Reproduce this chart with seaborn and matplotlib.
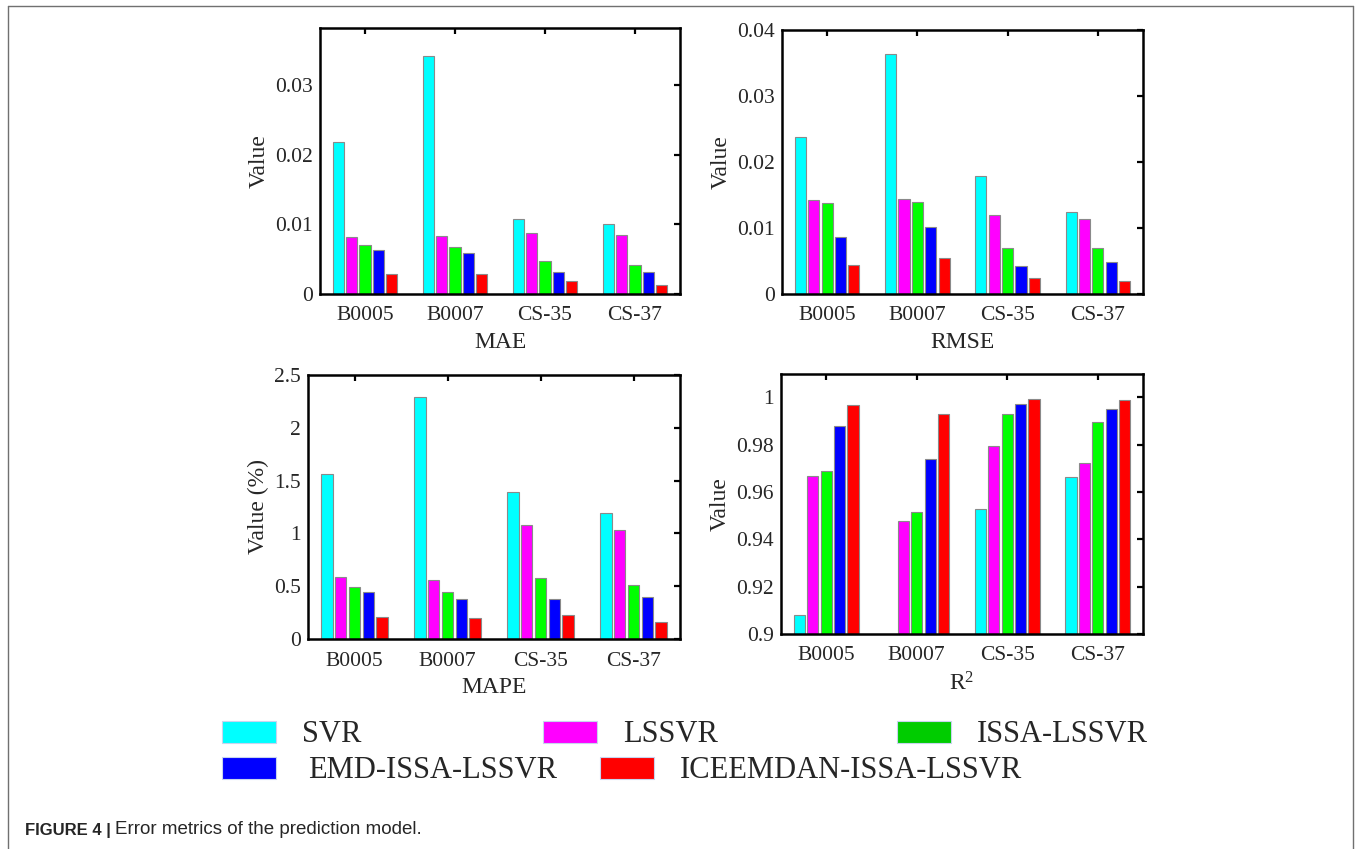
import numpy as np
import pandas as pd
import matplotlib
matplotlib.use("Agg")
import matplotlib.pyplot as plt
from matplotlib.patches import Patch
from matplotlib.lines import Line2D
from matplotlib.ticker import FuncFormatter
import seaborn as sns

# ---------------- data ----------------
datasets = ["B0005", "B0007", "CS-35", "CS-37"]
models = ["SVR", "LSSVR", "ISSA-LSSVR", "EMD-ISSA-LSSVR", "ICEEMDAN-ISSA-LSSVR"]

mae_svr = [0.0219, 0.0342, 0.0108, 0.0101]
mae_lssvr = [0.0082, 0.0084, 0.0088, 0.0085]
mae_issa = [0.0070, 0.0067, 0.0048, 0.0042]
mae_emd = [0.0063, 0.0059, 0.0031, 0.0032]
mae_ice = [0.0029, 0.0029, 0.0018, 0.0013]

rmse_svr = [0.0238, 0.0363, 0.0179, 0.0125]
rmse_lssvr = [0.0142, 0.0144, 0.0119, 0.0113]
rmse_issa = [0.0138, 0.0140, 0.0070, 0.0070]
rmse_emd = [0.0086, 0.0102, 0.0042, 0.0048]
rmse_ice = [0.0044, 0.0054, 0.0025, 0.0020]

mape_svr = [1.565, 2.287, 1.388, 1.192]
mape_lssvr = [0.587, 0.555, 1.082, 1.028]
mape_issa = [0.492, 0.442, 0.577, 0.511]
mape_emd = [0.442, 0.382, 0.379, 0.394]
mape_ice = [0.205, 0.196, 0.224, 0.161]

r2_svr = [0.9079, 0.8900, 0.9530, 0.9665]   # B0007 SVR lies below the 0.9 axis floor
r2_lssvr = [0.9666, 0.9477, 0.9794, 0.9721]
r2_issa = [0.9689, 0.9514, 0.9930, 0.9896]
r2_emd = [0.9879, 0.9738, 0.9973, 0.9951]
r2_ice = [0.9968, 0.9930, 0.9992, 0.9990]

bar_colors = ["#00FFFF", "#FF00FF", "#00FF00", "#0000FF", "#FF0000"]
legend_colors = ["#00FFFF", "#FF00FF", "#00CC00", "#0000FF", "#FF0000"]


def long_df(series):
    rows = []
    for m, vals in zip(models, series):
        for d, v in zip(datasets, vals):
            rows.append({"dataset": d, "model": m, "value": v})
    return pd.DataFrame(rows)


panels = [
    ("MAE", "Value", [mae_svr, mae_lssvr, mae_issa, mae_emd, mae_ice],
     (0, 0.0382), [0, 0.01, 0.02, 0.03]),
    ("RMSE", "Value", [rmse_svr, rmse_lssvr, rmse_issa, rmse_emd, rmse_ice],
     (0, 0.04), [0, 0.01, 0.02, 0.03, 0.04]),
    ("MAPE", "Value (%)", [mape_svr, mape_lssvr, mape_issa, mape_emd, mape_ice],
     (0, 2.5), [0, 0.5, 1, 1.5, 2, 2.5]),
    ("R$^{2}$", "Value", [r2_svr, r2_lssvr, r2_issa, r2_emd, r2_ice],
     (0.9, 1.0099), [0.9, 0.92, 0.94, 0.96, 0.98, 1.0]),
]

# ---------------- style ----------------
sns.set_style("white")
plt.rcParams["font.family"] = ["Liberation Serif", "DejaVu Serif"]
plt.rcParams["mathtext.fontset"] = "custom"
plt.rcParams["mathtext.rm"] = "Liberation Serif"
plt.rcParams["mathtext.it"] = "Liberation Serif"

fig = plt.figure(figsize=(13.56, 8.49), dpi=100)
W, H = 1356, 849


def px_axes(left, top, right, bottom):
    return fig.add_axes([left / W, 1 - bottom / H, (right - left) / W, (bottom - top) / H])


boxes = [
    (320, 28, 680, 294),
    (782, 30, 1143, 294),
    (308, 375, 680, 639),
    (781, 374, 1143, 634),
]

for (xlabel, ylabel, series, ylim, yticks), box in zip(panels, boxes):
    ax = px_axes(*box)
    df = long_df(series)
    sns.barplot(data=df, x="dataset", y="value", hue="model", hue_order=models,
                order=datasets, palette=bar_colors, width=0.74, gap=0.17,
                edgecolor="#8a8a8a", linewidth=0.8, saturation=1, ax=ax,
                legend=False, errorbar=None)
    ax.set_xlim(-0.5, 3.5)
    ax.set_ylim(*ylim)
    ax.set_yticks(yticks)
    ax.yaxis.set_major_formatter(FuncFormatter(lambda v, p: "%g" % round(v, 4)))
    ax.set_xlabel(xlabel, fontsize=17, labelpad=5)
    ax.set_ylabel(ylabel, fontsize=17, labelpad=4)
    ax.tick_params(axis="both", direction="in", top=True, right=True,
                   length=4.5, width=1.6, labelsize=15.5, color="black")
    ax.tick_params(axis="x", pad=9)
    ax.tick_params(axis="y", pad=5)
    for s in ax.spines.values():
        s.set_linewidth(1.8)
        s.set_color("black")
        s.set_visible(True)

# ---------------- legend (placed item by item) ----------------
leg_items = [
    (0, 222, 735, 0.85),
    (1, 543, 735, 0.85),
    (2, 897, 735, 0.85),
    (3, 222, 771, 1.05),
    (4, 600, 771, 0.85),
]
for idx, xp, yp, pad in leg_items:
    h = Patch(facecolor=legend_colors[idx], edgecolor="#c8d4ee", linewidth=0.8)
    fig.legend(handles=[h], labels=[models[idx]], loc="center left",
               bbox_to_anchor=(xp / W, 1 - yp / H), frameon=False,
               fontsize=22, handlelength=1.78, handleheight=0.72,
               handletextpad=pad, borderpad=0, borderaxespad=0)

# ---------------- caption & frame ----------------
cap_bold = fig.text(25 / W, 1 - 830 / H, "FIGURE 4 |", fontsize=12, fontweight="bold",
                    family=["Liberation Sans", "DejaVu Sans"], va="center", ha="left")
renderer = fig.canvas.get_renderer()
bb = cap_bold.get_window_extent(renderer=renderer)
fig.text((bb.x1 + 4) / W, 1 - 830 / H, "Error metrics of the prediction model.",
         fontsize=13.5, family=["Liberation Sans", "DejaVu Sans"], va="center", ha="left")

fig.add_artist(Line2D([8 / W, 8 / W], [0, 1 - 6 / H], transform=fig.transFigure,
                      color="#707070", linewidth=1))
fig.add_artist(Line2D([8 / W, 1353 / W], [1 - 6 / H, 1 - 6 / H], transform=fig.transFigure,
                      color="#707070", linewidth=1))
fig.add_artist(Line2D([1353 / W, 1353 / W], [0, 1 - 6 / H], transform=fig.transFigure,
                      color="#707070", linewidth=1))

fig.savefig("out.png", dpi=100, facecolor="white")
